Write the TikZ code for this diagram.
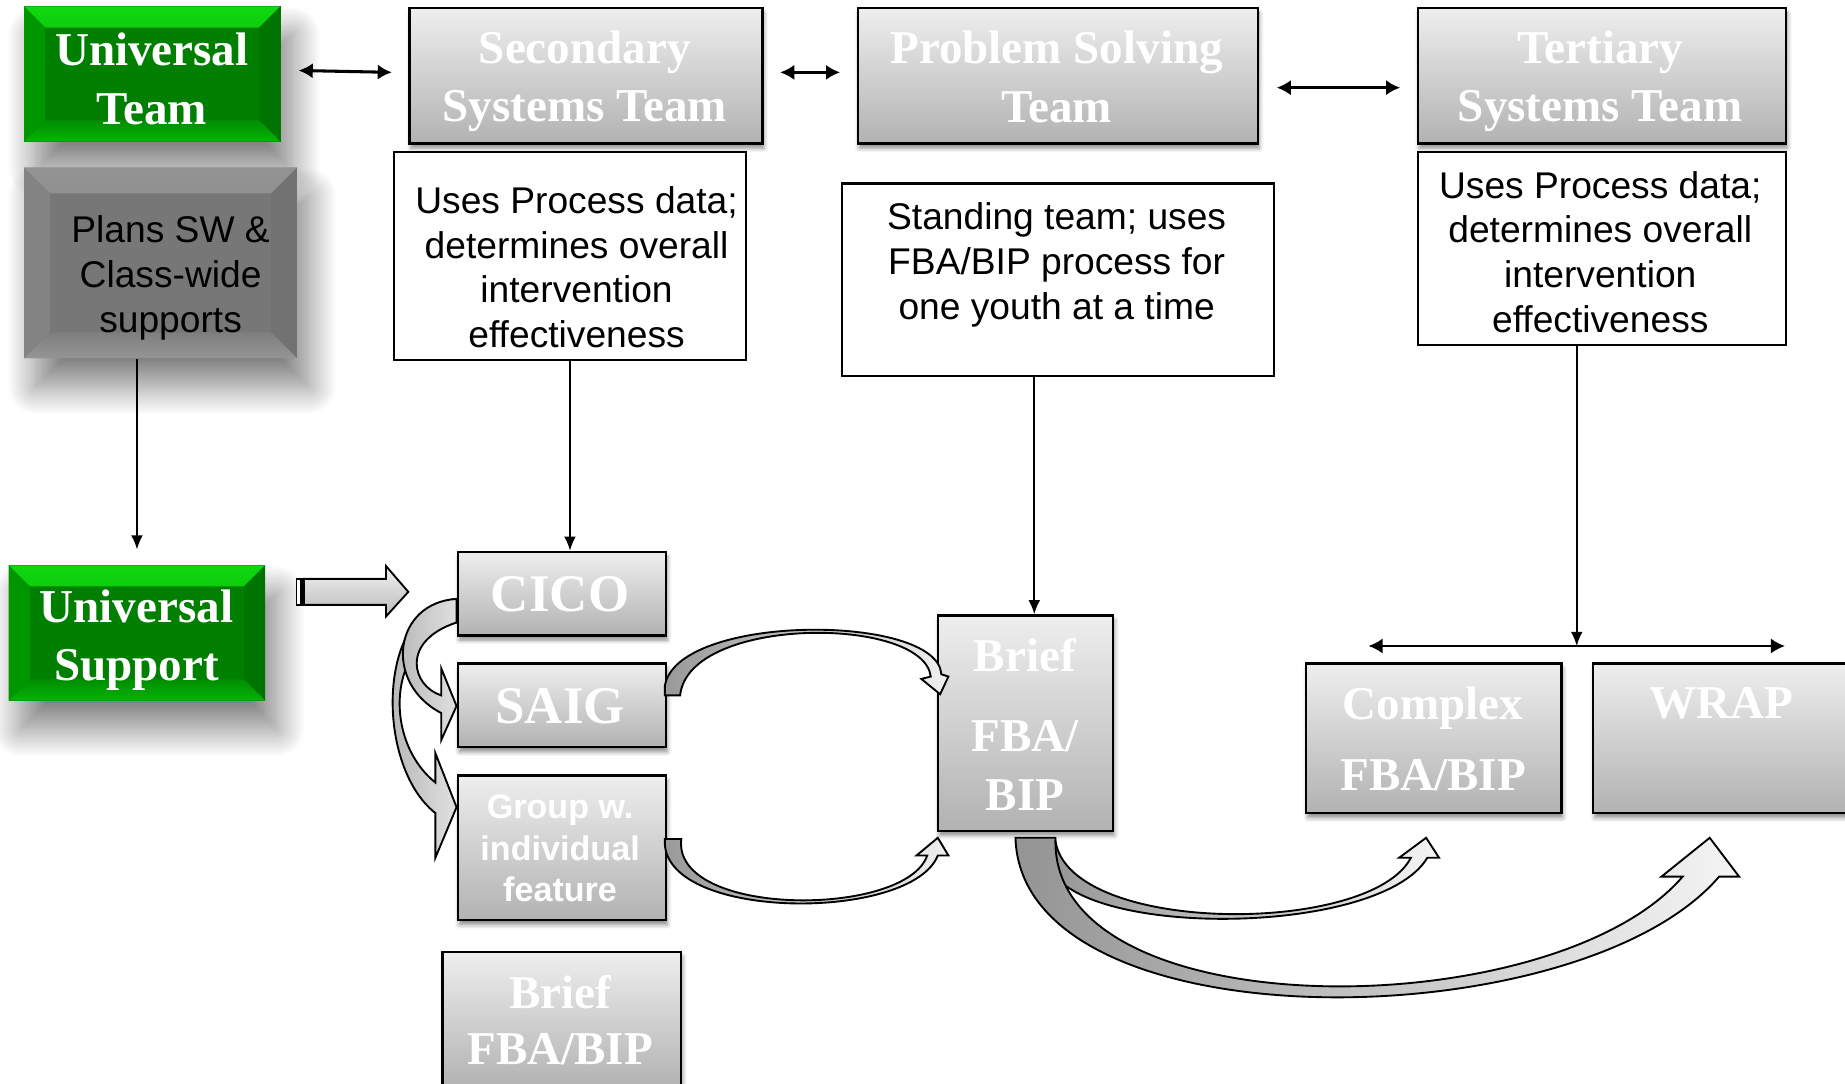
\documentclass[tikz,border=0pt]{standalone}
\usepackage{fontspec}
\setmainfont{Liberation Serif}
\setsansfont{Liberation Sans}
\usetikzlibrary{arrows.meta,calc,shadows,shadows.blur}
\definecolor{gtop}{HTML}{EEEEEE}
\definecolor{gbot}{HTML}{B2B2B2}
\definecolor{grnc}{HTML}{007F00}
\definecolor{grnt}{HTML}{10D810}
\definecolor{grnm}{HTML}{008E00}
\definecolor{grnl}{HTML}{009600}
\definecolor{grnr}{HTML}{007400}
\definecolor{grnb}{HTML}{06B406}
\definecolor{plc}{HTML}{777777}
\definecolor{plt}{HTML}{939393}
\definecolor{plm}{HTML}{7E7E7E}
\definecolor{pll}{HTML}{838383}
\definecolor{plr}{HTML}{727272}
\definecolor{plb}{HTML}{959595}
\begin{document}
\begin{tikzpicture}[x=0.5pt,y=-0.5pt,
  graybox/.style={draw=black, line width=1pt, top color=gtop, bottom color=gbot, inner sep=0pt, anchor=north west,
    blur shadow={shadow xshift=0.6pt, shadow yshift=-2pt, shadow blur radius=1.8pt, shadow opacity=45}},
  descbox/.style={draw=black, line width=0.9pt, fill=white, inner sep=0pt, anchor=north west},
  bevel/.style n args={6}{fill=#6, inner sep=0pt, anchor=north west,
    blur shadow={shadow xshift=5pt, shadow yshift=-12pt, shadow blur radius=12pt, shadow blur steps=30, shadow opacity=50},
    path picture={
     \fill[#2] (path picture bounding box.north west) -- (path picture bounding box.north east) -- ([xshift=-#1,yshift=-#1]path picture bounding box.north east) -- ([xshift=#1,yshift=-#1]path picture bounding box.north west) -- cycle;
     \fill[#3] (path picture bounding box.north west) -- ([xshift=#1,yshift=-#1]path picture bounding box.north west) -- ([xshift=#1,yshift=#1]path picture bounding box.south west) -- (path picture bounding box.south west) -- cycle;
     \fill[#4] (path picture bounding box.north east) -- ([xshift=-#1,yshift=-#1]path picture bounding box.north east) -- ([xshift=-#1,yshift=#1]path picture bounding box.south east) -- (path picture bounding box.south east) -- cycle;
     \fill[#5] (path picture bounding box.south west) -- ([xshift=#1,yshift=#1]path picture bounding box.south west) -- ([xshift=-#1,yshift=#1]path picture bounding box.south east) -- (path picture bounding box.south east) -- cycle;
    }},
  greenbox/.style={bevel={9pt}{top color=grnt,bottom color=grnm}{grnl}{grnr}{top color=grnm,bottom color=grnb}{grnc}},
  plansbox/.style={bevel={11pt}{top color=plt,bottom color=plm}{pll}{plr}{top color=plm,bottom color=plb}{plc}},
  ttl/.style={text=white, font=\bfseries\fontsize{20}{25}\selectfont, align=center, inner sep=0pt},
  desc/.style={text=black, font=\sffamily\fontsize{15.8}{19}\selectfont, align=center, inner sep=0pt},
  conn/.style={draw=black, line width=0.7pt, -{Latex[length=6pt,width=5pt]}},
  dbl/.style={draw=black, line width=1.3pt, {Latex[length=6pt,width=6.5pt]}-{Latex[length=6pt,width=6.5pt]}},
  crescent/.style={draw=black, line width=0.8pt, left color=black!32, right color=black!12},
  arcarrow/.style={draw=black, line width=0.8pt, left color=black!40, right color=black!6},
  bigarrow/.style={draw=black, line width=0.8pt, left color=black!42, right color=black!4}
]
\useasboundingbox (0,0) rectangle (1568,921);

% ---------- top row ----------
\node[greenbox, minimum width=109pt, minimum height=57.5pt] (ut) at (20,5) {};
\node[ttl] (ut-t) at (129,67) {Universal\\Team};

\node[graybox, minimum width=150pt, minimum height=57.5pt] (sst) at (347,6) {};
\node[ttl] (sst-t) at (497,69) {Secondary\\Systems Team};

\node[graybox, minimum width=170pt, minimum height=57.5pt] (pst) at (728,6) {};
\node[ttl] (pst-t) at (898,65) {Problem Solving\\Team};

\node[graybox, minimum width=156.5pt, minimum height=57.5pt] (tst) at (1204,6) {};
\node[ttl] (tst-t) at (1360,69) {Tertiary\\Systems Team};

\draw[dbl] ($(ut.east)+(15,-3)$) -- ($(sst.west)+(-14,-3)$);
\draw[dbl] ($(sst.east)+(14,-3)$) -- ($(pst.west)+(-14,-3)$);
\draw[dbl] ($(pst.east)+(15,10)$) -- ($(tst.west)+(-14,10)$);

% ---------- second row ----------
\node[plansbox, minimum width=116pt, minimum height=81pt] (plans) at (20,142) {};
\node[desc] (plans-t) at (145,236) {Plans SW \&\\Class-wide\\supports};

\node[descbox, minimum width=149.5pt, minimum height=88.5pt] (sdesc) at (334,128) {};
\node[desc] (sdesc-t) at (490,227) {Uses Process data;\\determines overall\\intervention\\effectiveness};

\node[descbox, minimum width=183.5pt, minimum height=82pt] (stand) at (715,155) {};
\node[desc] (stand-t) at (898,225) {Standing team; uses\\FBA/BIP process for\\one youth at a time};

\node[descbox, minimum width=156.5pt, minimum height=82pt] (tdesc) at (1204,128) {};
\node[desc] (tdesc-t) at (1360,214) {Uses Process data;\\determines overall\\intervention\\effectiveness};

% ---------- lower area ----------
\node[greenbox, minimum width=109pt, minimum height=57.5pt] (us) at (7,480) {};
\node[ttl] (us-t) at (116,544) {Universal\\Support};

\node[graybox, minimum width=88.5pt, minimum height=35.5pt] (cico) at (388,468) {};
\node[ttl, font=\bfseries\fontsize{22.5}{27}\selectfont] (cico-t) at (476,505) {CICO};

\node[graybox, minimum width=88.5pt, minimum height=35.5pt] (saig) at (388,563) {};
\node[ttl, font=\bfseries\fontsize{22.5}{27}\selectfont] (saig-t) at (476,600) {SAIG};

\node[graybox, minimum width=88.5pt, minimum height=61.5pt] (grp) at (388,658) {};
\node[ttl, font=\sffamily\bfseries\fontsize{14.5}{17.75}\selectfont] (grp-t) at (476,721) {Group w.\\individual\\feature};

\node[graybox, minimum width=101.5pt, minimum height=58pt] (bfb) at (375,808) {};
\node[ttl, font=\bfseries\fontsize{20}{24}\selectfont] (bfb-t) at (476,867) {Brief\\FBA/BIP};

\node[graybox, minimum width=74.5pt, minimum height=91.5pt] (brief) at (796,522) {};
\node[ttl] (brief-t) at (871,616) {Brief\\[9pt]FBA/\\BIP};

\node[graybox, minimum width=108.5pt, minimum height=63.5pt] (cplx) at (1109,563) {};
\node[ttl, font=\bfseries\fontsize{20}{30}\selectfont] (cplx-t) at (1218,628) {Complex\\FBA/BIP};

\node[graybox, minimum width=110pt, minimum height=63.5pt] (wrap) at (1353,563) {};
\node[ttl] (wrap-t) at (1463,598) {WRAP};

% ---------- thin connectors ----------
\draw[conn, shorten >=6.5pt] (plans.south -| us.north) -- (us.north);
\draw[conn] (sdesc.south) -- (sdesc.south |- cico.north);
\coordinate (bt) at ($(brief.north)+(7.5,0)$);
\draw[conn] (stand.south -| bt) -- (bt);
\coordinate (split) at (1340,549);
\coordinate (hl) at (1163,549);
\coordinate (hr) at (1517,549);
\draw[conn] (tdesc.south -| split) -- (split);
\draw[dbl, line width=1.1pt] (hl) -- (hr);

% ---------- block arrow Universal Support -> CICO ----------
\path[draw=black, line width=0.8pt, top color=black!6, bottom color=black!26]
  (258,492) -- (328,492) -- (328,481) -- (347,503) -- (328,524) -- (328,514) -- (258,514) -- cycle;
\path[draw=black, line width=0.8pt, fill=white] (252,492) rectangle (258,514);
\draw[black, line width=1.2pt] (256,492) -- (256,514);

% ---------- crescent arrows CICO -> SAIG / Group ----------
\path[crescent] (388,509) .. controls (320,515) and (318,650) .. (370,691)
  -- (370,729) -- (388,686) -- (370,640) -- (370,665)
  .. controls (326,630) and (328,545) .. (388,529) -- cycle;
\path[crescent] (388,509) .. controls (335,512) and (325,580) .. (375,606)
  -- (375,629) -- (388,600) -- (375,568) -- (375,591)
  .. controls (350,583) and (340,545) .. (388,529) -- cycle;

% ---------- arcs SAIG -> Brief, Group -> Brief ----------
\path[arcarrow] (565,583) .. controls (575,521) and (797,521) .. (800,573)
  -- (806,575) -- (799,590) -- (783,577) -- (791,575)
  .. controls (785,523) and (585,523) .. (578,591) -- (565,591) -- cycle;
\path[arcarrow] (565,717) .. controls (568,783) and (775,783) .. (797,727)
  -- (806,727) -- (797,712) -- (779,727) -- (788,727)
  .. controls (770,780) and (571,780) .. (579,713) -- (565,713) -- cycle;

% ---------- big arrows from Brief ----------
\path[bigarrow] (890,730) .. controls (900,798) and (1172,798) .. (1213,729)
  -- (1223,729) -- (1212,712) -- (1189,729) -- (1199,729)
  .. controls (1165,795) and (910,795) .. (897,715) -- cycle;
\path[bigarrow] (863,712) .. controls (868,890) and (1342,884) .. (1461,745)
  -- (1478,745) -- (1453,712) -- (1412,745) -- (1430,745)
  .. controls (1320,873) and (891,876) .. (897,712) -- cycle;

\end{tikzpicture}
\end{document}
